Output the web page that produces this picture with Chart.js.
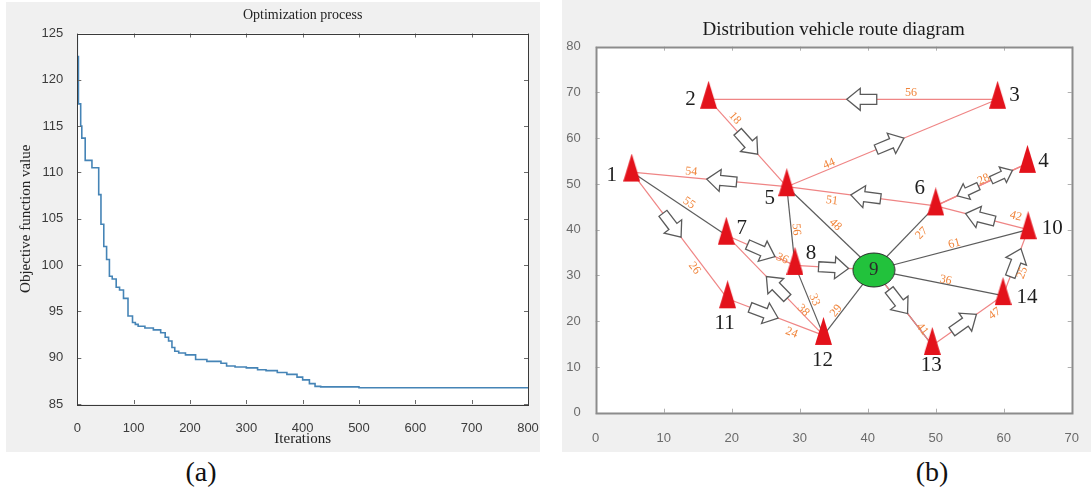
<!DOCTYPE html>
<html><head><meta charset="utf-8">
<script src="https://cdn.jsdelivr.net/npm/chart.js@4.4.1/dist/chart.umd.min.js"></script>
<style>
html,body{margin:0;padding:0;background:#fff;width:1091px;height:494px;overflow:hidden;position:relative}
#c1{position:absolute;left:6px;top:2px}
#c2{position:absolute;left:562px;top:0}
.cap{position:absolute;width:100px;text-align:center;font:28px 'Liberation Serif',serif;line-height:28px;color:#111;top:458px}
</style></head><body>
<canvas id="c1" width="534" height="450"></canvas>
<canvas id="c2" width="529" height="452"></canvas>
<div class="cap" style="left:151px">(a)</div>
<div class="cap" style="left:882px">(b)</div>
<script>
// ---------------- DATA: panel (a) ----------------
const iterations = [0,2,6,8,14,26,38,42,47,52,57,62,69,75,82,90,98,103,108,120,135,148,156,162,168,173,180,192,210,230,255,265,280,300,320,335,355,372,390,400,412,422,432,500,590,800];
const objectiveValues = [124.8,122.5,117.4,115.0,113.7,111.3,110.5,107.6,104.4,102.0,100.6,98.8,98.5,97.6,97.3,96.4,94.5,93.8,93.6,93.4,93.2,93.0,92.7,92.2,91.8,91.1,90.7,90.5,90.3,89.8,89.6,89.4,89.1,89.0,88.9,88.7,88.6,88.4,88.2,87.9,87.6,87.2,86.9,86.85,86.75,86.75];
const iterTicks = [0,100,200,300,400,500,600,700,800];
const objTicks = [85,90,95,100,105,110,115,120,125];

// ---------------- DATA: panel (b) ----------------
const nodeIds = ['1','2','3','4','5','6','7','8','9','10','11','12','13','14'];
const nodeX = [5.3,16.6,59.1,63.5,28.1,50.0,19.2,29.3,40.9,63.6,19.4,33.5,49.5,59.9];
const nodeY = [52.6,68.5,68.5,54.5,49.4,45.2,38.8,32.2,31.2,40.0,24.9,16.9,14.7,25.6];
const depotId = '9';
// directed vehicle route legs (red)
const routeFrom = ['3','2','5','5','6','10','6','4','1','11','12','7','8','9','13','14'];
const routeTo   = ['2','5','3','1','5','6','4','6','11','12','7','8','9','13','14','10'];
const routeDist = [56,18,44,54,51,42,28,28,26,24,38,36,null,41,47,25];
// undirected distance links (gray)
const linkFrom = ['1','5','5','8','12','9','9','9','9'];
const linkTo   = ['7','8','9','12','9','6','10','14','13'];
const linkDist = [55,56,48,33,29,27,61,36,41];
const mapXTicks = [0,10,20,30,40,50,60,70];
const mapYTicks = [0,10,20,30,40,50,60,70,80];

// ---------------- LAYOUT / STYLE (not data) ----------------
const LAYOUT = {
  routeArrowT: [0.47,0.5,0.49,0.42,0.47,0.52,0.72,0.65,0.42,0.38,0.48,0.51,0.49,0.42,0.45,0.5],
  routeArrowS: [1,1,1,1,1,1,0.78,0.78,1,1,1,1,1,1,1,1],
  routeLabel: [[0.3,6],[0.27,7],[0.21,5],[0.62,6],[0.69,-8],[0.16,10],[0.54,4],null,[0.72,-8],[0.7,-9],[0.23,3],[0.81,1],null,[0.8,2],[0.8,-10],[0.4,-10]],
  linkLabel: [[0.57,6],[0.55,5],[0.51,6],[0.52,5],[0.33,5],[0.67,-9],[0.53,5],[0.55,4],null],
  nodeLabelDx: [-20,-18,17,16,-17,-16,15.5,16,0,24,-3,-1,-1,24],
  nodeLabelDy: [3,0,-3.5,-2,12,-17,-7,-12,0,-1,25,25,20,1.5]
};

const SERIF = "'Liberation Serif','Times New Roman',serif";
const SANS = "'Liberation Sans',Arial,sans-serif";

const framePlugin = {
  id: 'frame',
  beforeDraw(chart, args, o) {
    const {ctx, chartArea: a, width, height} = chart;
    ctx.save();
    ctx.fillStyle = o.bg; ctx.fillRect(0, 0, width, height);
    ctx.fillStyle = '#ffffff'; ctx.fillRect(a.left, a.top, a.right - a.left, a.bottom - a.top);
    ctx.restore();
  },
  afterDraw(chart, args, o) {
    const {ctx, chartArea: a, scales: {x, y}} = chart;
    ctx.save();
    ctx.strokeStyle = o.tickColor; ctx.lineWidth = 1;
    x.ticks.forEach(t => {
      const px = Math.round(x.getPixelForValue(t.value)) + 0.5;
      ctx.beginPath();
      ctx.moveTo(px, a.bottom); ctx.lineTo(px, a.bottom - o.tick);
      ctx.moveTo(px, a.top); ctx.lineTo(px, a.top + o.tick);
      ctx.stroke();
    });
    y.ticks.forEach(t => {
      const py = Math.round(y.getPixelForValue(t.value)) + 0.5;
      ctx.beginPath();
      ctx.moveTo(a.left, py); ctx.lineTo(a.left + o.tick, py);
      ctx.moveTo(a.right, py); ctx.lineTo(a.right - o.tick, py);
      ctx.stroke();
    });
    ctx.strokeStyle = o.color; ctx.lineWidth = o.lw;
    ctx.strokeRect(Math.round(a.left) + 0.5, Math.round(a.top) + 0.5, Math.round(a.right - a.left), Math.round(a.bottom - a.top));
    ctx.restore();
  }
};

// ---------------- CHART (a) ----------------
new Chart(document.getElementById('c1'), {
  type: 'line',
  data: {
    datasets: [{
      data: iterations.map((it, i) => ({x: it, y: objectiveValues[i]})),
      borderColor: '#4584b6', borderWidth: 1.6, pointRadius: 0, stepped: 'after', fill: false
    }]
  },
  options: {
    responsive: false, animation: false,
    layout: {padding: {left: 0, right: 12, top: 0, bottom: 0}},
    plugins: {
      legend: {display: false}, tooltip: {enabled: false},
      title: {display: true, text: 'Optimization process', fullSize: false, color: '#222',
        font: {family: SERIF, size: 14, weight: 'normal'}, padding: {top: 4.6, bottom: 10.1}},
      frame: {bg: '#f0f0f0', color: '#3a3a3a', lw: 1, tick: 4, tickColor: '#6a6a6a'}
    },
    scales: {
      x: {type: 'linear', min: 0, max: 800,
        afterBuildTicks: s => { s.ticks = iterTicks.map(v => ({value: v})); },
        afterFit: s => { s.height = 48; s.paddingLeft = 0; s.paddingRight = 0; },
        grid: {display: false}, border: {display: false},
        ticks: {color: '#3c3c3c', font: {family: SANS, size: 13}, padding: 9, maxRotation: 0},
        title: {display: true, text: 'Iterations', color: '#222', font: {family: SERIF, size: 15}, padding: {top: 0, bottom: 4}}
      },
      y: {type: 'linear', min: 85, max: 125,
        afterBuildTicks: s => { s.ticks = objTicks.map(v => ({value: v})); },
        afterFit: s => { s.width = 71.3; s.paddingTop = 0; s.paddingBottom = 0; },
        grid: {display: false}, border: {display: false},
        ticks: {color: '#3c3c3c', font: {family: SANS, size: 13}, padding: 6},
        title: {display: true, text: 'Objective function value', color: '#222', font: {family: SERIF, size: 15}, padding: {top: 11.4, bottom: 0}}
      }
    }
  },
  plugins: [framePlugin]
});

// ---------------- CHART (b) ----------------
function triangleImage(w, h, color) {
  const c = document.createElement('canvas');
  c.width = w; c.height = Math.round(h * 4 / 3);
  const g = c.getContext('2d');
  g.fillStyle = color;
  g.beginPath(); g.moveTo(w / 2, 0); g.lineTo(w, h); g.lineTo(0, h); g.closePath(); g.fill();
  return c;
}
function ellipseImage(w, h, fill, stroke) {
  const c = document.createElement('canvas');
  c.width = w + 2; c.height = h + 2;
  const g = c.getContext('2d');
  g.beginPath(); g.ellipse(c.width / 2, c.height / 2, w / 2, h / 2, 0, 0, Math.PI * 2);
  g.fillStyle = fill; g.fill(); g.lineWidth = 1; g.strokeStyle = stroke; g.stroke();
  return c;
}
const triImg = triangleImage(17, 28, '#e3121b');
const depotImg = ellipseImage(42, 34, '#22c23c', '#2a2a2a');
const idx = id => nodeIds.indexOf(id);
const pt = id => ({x: nodeX[idx(id)], y: nodeY[idx(id)]});

const datasets = [];
datasets.push({
  data: nodeIds.map(id => pt(id)), showLine: false, pointRadius: 10,
  pointStyle: c => (nodeIds[c.dataIndex] === depotId ? depotImg : triImg), clip: false
});
routeFrom.forEach((f, i) => datasets.push({
  data: [pt(f), pt(routeTo[i])], showLine: true, pointRadius: 0, borderColor: '#ef8585', borderWidth: 1.2
}));
linkFrom.forEach((f, i) => datasets.push({
  data: [pt(f), pt(linkTo[i])], showLine: true, pointRadius: 0, borderColor: '#5c5c5c', borderWidth: 1.2
}));

function drawArrow(ctx, x, y, ang, s) {
  ctx.save(); ctx.translate(x, y); ctx.rotate(ang); ctx.scale(s, s);
  ctx.beginPath();
  ctx.moveTo(-15, -5); ctx.lineTo(1.5, -5); ctx.lineTo(1.5, -11); ctx.lineTo(15, 0);
  ctx.lineTo(1.5, 11); ctx.lineTo(1.5, 5); ctx.lineTo(-15, 5); ctx.closePath();
  ctx.fillStyle = '#ffffff'; ctx.fill();
  ctx.lineWidth = 1.3 / s; ctx.strokeStyle = '#5a5a5a'; ctx.stroke();
  ctx.restore();
}
function drawEdgeLabel(ctx, A, B, t, off, text) {
  const dx = B.x - A.x, dy = B.y - A.y, len = Math.hypot(dx, dy);
  let nx = dy / len, ny = -dx / len;
  if (ny > 0 || (Math.abs(ny) < 1e-6 && nx < 0)) { nx = -nx; ny = -ny; }
  const x = A.x + dx * t + nx * off, y = A.y + dy * t + ny * off;
  let ang = Math.atan2(dy, dx);
  if (ang > Math.PI / 2) ang -= Math.PI;
  if (ang < -Math.PI / 2) ang += Math.PI;
  ctx.save(); ctx.translate(x, y); ctx.rotate(ang);
  ctx.fillStyle = '#f0843a'; ctx.font = '12px ' + SERIF;
  ctx.textAlign = 'center'; ctx.textBaseline = 'middle';
  ctx.fillText(String(text), 0, 0);
  ctx.restore();
}

const routePlugin = {
  id: 'routeMarks',
  afterDatasetsDraw(chart) {
    const {ctx, scales: {x, y}} = chart;
    const P = id => ({x: x.getPixelForValue(nodeX[idx(id)]), y: y.getPixelForValue(nodeY[idx(id)])});
    routeFrom.forEach((f, i) => {
      const A = P(f), B = P(routeTo[i]), t = LAYOUT.routeArrowT[i];
      drawArrow(ctx, A.x + (B.x - A.x) * t, A.y + (B.y - A.y) * t, Math.atan2(B.y - A.y, B.x - A.x), LAYOUT.routeArrowS[i]);
    });
    routeFrom.forEach((f, i) => {
      const L = LAYOUT.routeLabel[i];
      if (!L || routeDist[i] == null) return;
      drawEdgeLabel(ctx, P(f), P(routeTo[i]), L[0], L[1], routeDist[i]);
    });
    linkFrom.forEach((f, i) => {
      const L = LAYOUT.linkLabel[i];
      if (!L || linkDist[i] == null) return;
      drawEdgeLabel(ctx, P(f), P(linkTo[i]), L[0], L[1], linkDist[i]);
    });
    ctx.save();
    ctx.textAlign = 'center'; ctx.textBaseline = 'middle';
    nodeIds.forEach((id, i) => {
      const p = P(id);
      ctx.fillStyle = id === depotId ? '#2b2b2b' : '#1e1e1e';
      ctx.font = (id === depotId ? '19px ' : '21px ') + SERIF;
      ctx.fillText(id, p.x + LAYOUT.nodeLabelDx[i], p.y + LAYOUT.nodeLabelDy[i]);
    });
    ctx.restore();
  }
};

new Chart(document.getElementById('c2'), {
  type: 'scatter',
  data: {datasets},
  options: {
    responsive: false, animation: false,
    layout: {padding: {left: 0, right: 19.3, top: 0, bottom: 0}},
    plugins: {
      legend: {display: false}, tooltip: {enabled: false},
      title: {display: true, text: 'Distribution vehicle route diagram', fullSize: false, color: '#1a1a1a',
        font: {family: SERIF, size: 19, weight: 'normal'}, padding: {top: 18.6, bottom: 5.3}},
      frame: {bg: '#f0f0f0', color: '#8c8c8c', lw: 2, tick: 4, tickColor: '#b0b0b0'}
    },
    scales: {
      x: {type: 'linear', min: 0, max: 70,
        afterBuildTicks: s => { s.ticks = mapXTicks.map(v => ({value: v})); },
        afterFit: s => { s.height = 39.3; s.paddingLeft = 0; s.paddingRight = 0; },
        grid: {display: false}, border: {display: false},
        ticks: {color: '#6b6b6b', font: {family: SANS, size: 13}, padding: 10, maxRotation: 0}
      },
      y: {type: 'linear', min: 0, max: 80,
        afterBuildTicks: s => { s.ticks = mapYTicks.map(v => ({value: v})); },
        afterFit: s => { s.width = 33.7; s.paddingTop = 0; s.paddingBottom = 0; },
        grid: {display: false}, border: {display: false},
        ticks: {color: '#6b6b6b', font: {family: SANS, size: 13}, padding: 7}
      }
    }
  },
  plugins: [framePlugin, routePlugin]
});
</script>
</body></html>
